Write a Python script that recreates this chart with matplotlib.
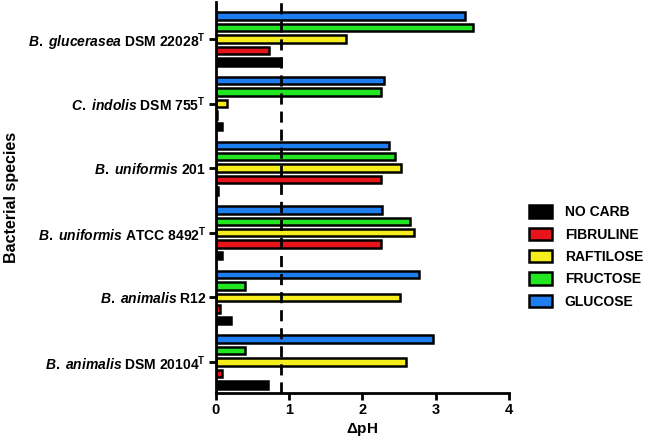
import numpy as np
import matplotlib.pyplot as plt

plt.rcParams['font.family'] = ['Liberation Sans', 'DejaVu Sans']
plt.rcParams['mathtext.fontset'] = 'custom'
plt.rcParams['mathtext.it'] = 'Liberation Sans:italic:bold'
plt.rcParams['mathtext.rm'] = 'Liberation Sans:bold'
plt.rcParams['mathtext.bf'] = 'Liberation Sans:bold'

species = [r'$\mathit{B.}$ $\mathit{glucerasea}$ DSM 22028$^{\mathrm{T}}$',
           r'$\mathit{C.}$ $\mathit{indolis}$ DSM 755$^{\mathrm{T}}$',
           r'$\mathit{B.}$ $\mathit{uniformis}$ 201',
           r'$\mathit{B.}$ $\mathit{uniformis}$ ATCC 8492$^{\mathrm{T}}$',
           r'$\mathit{B.}$ $\mathit{animalis}$ R12',
           r'$\mathit{B.}$ $\mathit{animalis}$ DSM 20104$^{\mathrm{T}}$']

series = ['NO CARB', 'FIBRULINE', 'RAFTILOSE', 'FRUCTOSE', 'GLUCOSE']
colors = ['#000000', '#e8141b', '#f5ee1c', '#22e622', '#1e7ef0']

no_carb   = [0.89, 0.08, 0.03, 0.09, 0.21, 0.71]
fibruline = [0.73, 0.02, 2.26, 2.25, 0.06, 0.09]
raftilose = [1.77, 0.15, 2.53, 2.71, 2.51, 2.60]
fructose  = [3.51, 2.26, 2.45, 2.65, 0.40, 0.40]
glucose   = [3.40, 2.29, 2.36, 2.27, 2.77, 2.97]
values = [no_carb, fibruline, raftilose, fructose, glucose]

threshold = 0.89

fig = plt.figure(figsize=(6.5, 4.43), dpi=100)
ax = fig.add_axes([0.332, 0.113, 0.451, 0.882])

ypos = np.arange(len(species))[::-1].astype(float)
step = 0.177
for j, (name, vals) in enumerate(zip(series, values)):
    ax.barh(ypos + (j - 2) * step, vals, height=0.115, color=colors[j],
            edgecolor='black', linewidth=1.8, label=name)

ax.axvline(threshold, color='black', lw=2, ls=(0, (4, 2.5)))

ax.set_xlim(0, 4)
ax.set_ylim(-0.48, 5.57)
ax.set_xticks([0, 1, 2, 3, 4])
ax.set_yticks(ypos)
ax.set_yticklabels(species, fontsize=10, fontweight='bold')
for lab in ax.get_xticklabels():
    lab.set_fontweight('bold')
    lab.set_fontsize(10.5)
ax.tick_params(width=2, length=5, pad=2)
for s in ['top', 'right']:
    ax.spines[s].set_visible(False)
for s in ['left', 'bottom']:
    ax.spines[s].set_linewidth(2)

ax.set_xlabel(r'$\Delta$pH', fontsize=11, fontweight='bold', labelpad=3)
ax.set_ylabel('Bacterial species', fontsize=11.5, fontweight='bold')
ax.yaxis.set_label_coords(-0.672, 0.5)

h, l = ax.get_legend_handles_labels()
fig.legend(h, l, loc='upper left', bbox_to_anchor=(0.795, 0.565), frameon=False,
           prop={'weight': 'bold', 'size': 10}, handlelength=1.65,
           handleheight=1.0, labelspacing=0.6, handletextpad=0.9)

fig.savefig('out.png', dpi=100)
